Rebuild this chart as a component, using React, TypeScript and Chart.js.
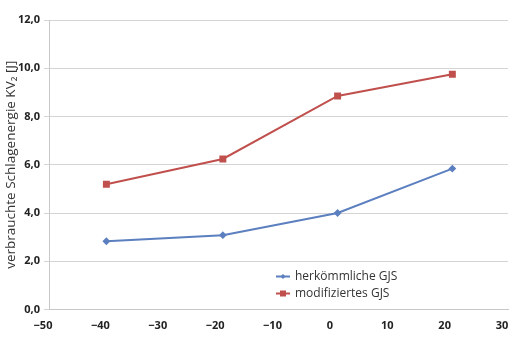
import React, { useEffect, useRef } from 'react';
import { Chart, registerables } from 'chart.js';

Chart.register(...registerables);

const temperatures = [-40, -19.7, 0.3, 20.3];
const herkoemmlich = [2.83, 3.08, 4.0, 5.84];
const modifiziert = [5.19, 6.24, 8.85, 9.75];
const seriesLabels = ['herkömmliche GJS', 'modifiziertes GJS'];
const seriesColors = ['#5b7fbf', '#c0504d'];
const yTitle = 'verbrauchte Schlagenergie KV\u2082 [J]';
const xMin = -50;
const xMax = 30;
const yMin = 0;
const yMax = 12;

const FONT = '"Open Sans", "Noto Sans", sans-serif';

const legendPlugin = {
  id: 'innerLegend',
  afterDraw(chart: any) {
    const { ctx, chartArea } = chart;
    const x0 = chartArea.left + 227;
    const y0 = chartArea.bottom - 33;
    ctx.save();
    chart.data.datasets.forEach((ds: any, i: number) => {
      const y = y0 + i * 17;
      ctx.strokeStyle = ds.borderColor;
      ctx.fillStyle = ds.borderColor;
      ctx.lineWidth = 2;
      ctx.beginPath();
      ctx.moveTo(x0, y);
      ctx.lineTo(x0 + 14, y);
      ctx.stroke();
      const cx = x0 + 7;
      if (ds.pointStyle === 'rect') {
        ctx.fillRect(cx - 3, y - 3, 6, 6);
      } else {
        ctx.beginPath();
        ctx.moveTo(cx, y - 2.5);
        ctx.lineTo(cx + 2.5, y);
        ctx.lineTo(cx, y + 2.5);
        ctx.lineTo(cx - 2.5, y);
        ctx.closePath();
        ctx.fill();
      }
      ctx.fillStyle = '#333';
      ctx.font = `12px ${FONT}`;
      ctx.textBaseline = 'middle';
      ctx.textAlign = 'left';
      ctx.fillText(ds.label, x0 + 19, y);
    });
    ctx.restore();
  },
};

export default function App() {
  const ref = useRef<HTMLCanvasElement | null>(null);

  useEffect(() => {
    document.body.style.margin = '0';
    const canvas = ref.current;
    if (!canvas) return;
    const chart = new Chart(canvas, {
      type: 'line',
      data: {
        datasets: [
          {
            label: seriesLabels[0],
            data: temperatures.map((t, i) => ({ x: t, y: herkoemmlich[i] })),
            borderColor: seriesColors[0],
            backgroundColor: seriesColors[0],
            borderWidth: 2,
            pointStyle: 'rectRot',
            pointRadius: 2.5,
            tension: 0,
          },
          {
            label: seriesLabels[1],
            data: temperatures.map((t, i) => ({ x: t, y: modifiziert[i] })),
            borderColor: seriesColors[1],
            backgroundColor: seriesColors[1],
            borderWidth: 2,
            pointStyle: 'rect',
            pointRadius: 3.5,
            tension: 0,
          },
        ],
      },
      options: {
        responsive: false,
        animation: false,
        layout: { padding: { top: 20, right: 14, left: 0, bottom: 0 } },
        plugins: {
          legend: { display: false },
          tooltip: { enabled: false },
        },
        scales: {
          x: {
            type: 'linear',
            min: xMin,
            max: xMax,
            afterFit: (scale: any) => {
              scale.height = 45.5;
            },
            grid: { display: false },
            border: { display: true, color: '#c8c8c8' },
            ticks: {
              stepSize: 10,
              labelOffset: -6,
              padding: 2,
              color: '#222',
              font: { family: FONT, size: 11, weight: 'bold' },
              callback: (v: any) => (v < 0 ? '\u2212' + Math.abs(v) : String(v)),
            },
          },
          y: {
            min: yMin,
            max: yMax,
            afterFit: (scale: any) => {
              scale.width = 49;
            },
            grid: { color: '#d4d4d4', tickLength: 5, tickColor: '#d4d4d4' },
            border: { display: true, color: '#c8c8c8' },
            ticks: {
              stepSize: 2,
              padding: 4,
              color: '#222',
              font: { family: FONT, size: 11, weight: 'bold' },
              callback: (v: any) => Number(v).toFixed(1).replace('.', ','),
            },
            title: {
              display: true,
              text: yTitle,
              color: '#333',
              padding: { top: 3, bottom: 2 },
              font: { family: FONT, size: 13.5 },
            },
          },
        },
      },
      plugins: [legendPlugin],
    });
    return () => chart.destroy();
  }, []);

  return (
    <div style={{ width: 522, height: 355, background: '#fff' }}>
      <canvas ref={ref} width={522} height={355} />
    </div>
  );
}
